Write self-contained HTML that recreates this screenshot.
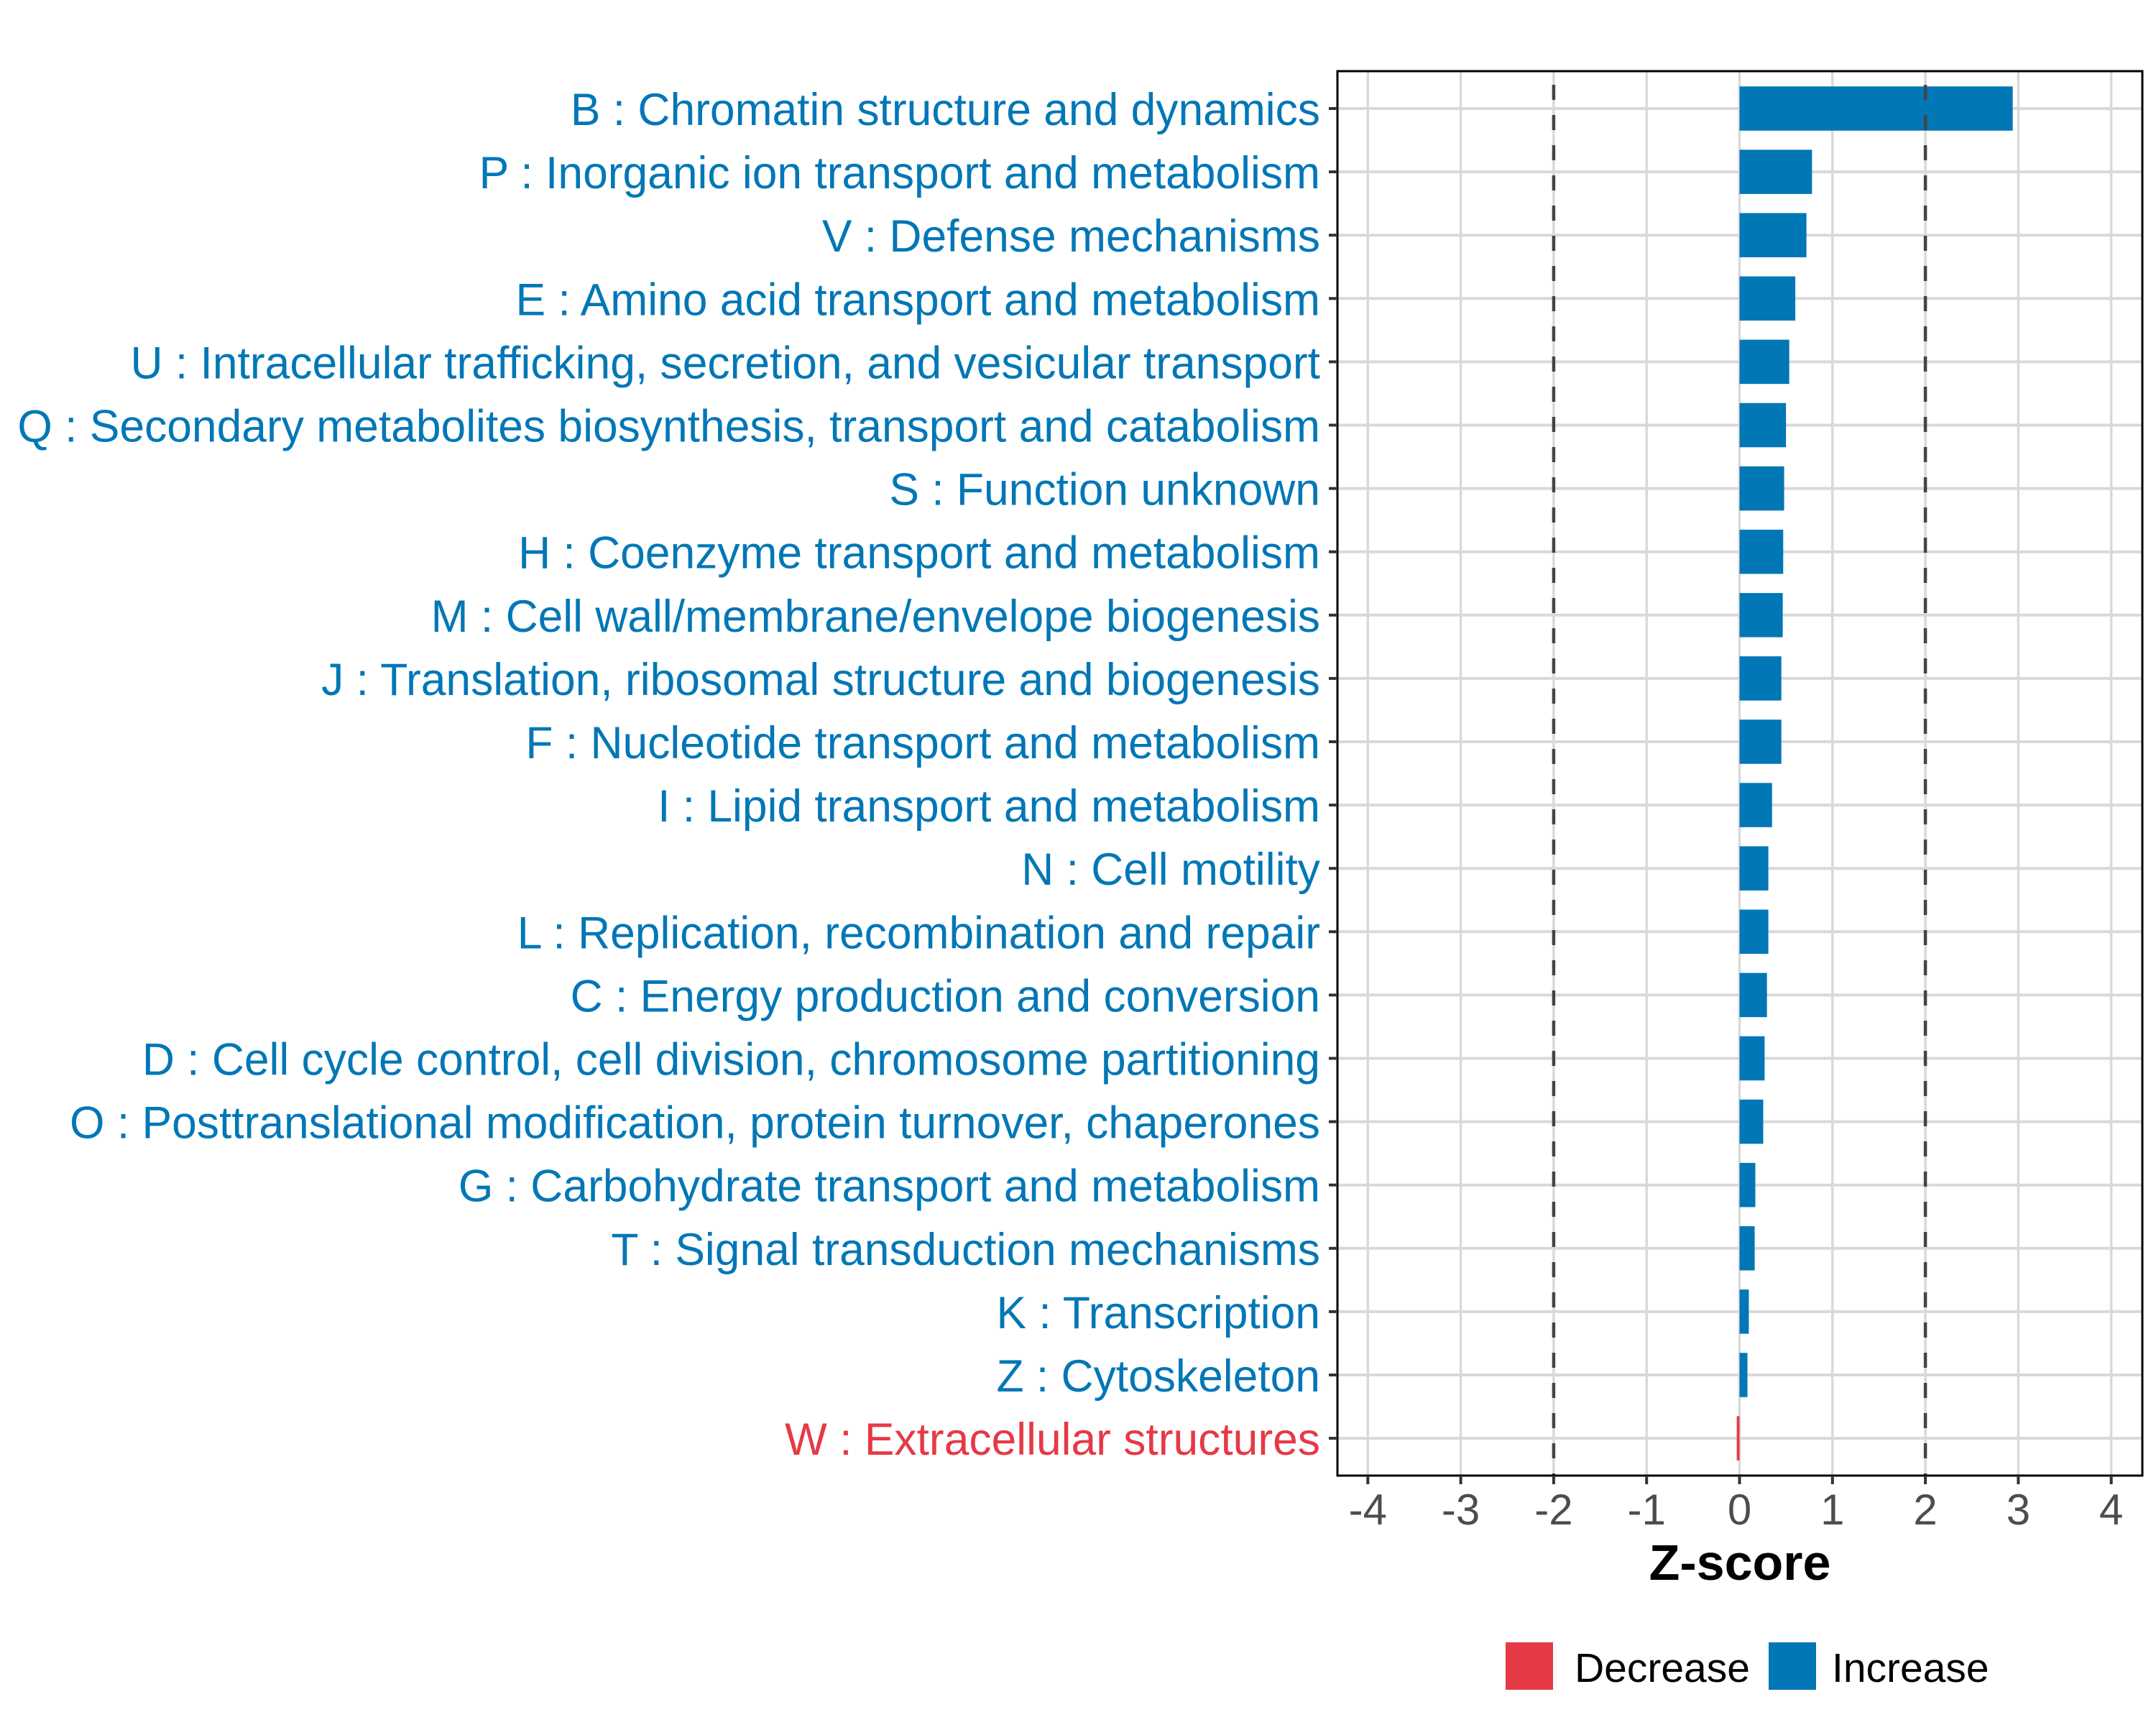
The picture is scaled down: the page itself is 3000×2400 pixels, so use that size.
<!DOCTYPE html>
<html><head><meta charset="utf-8"><style>
html,body{margin:0;padding:0;background:#fff;}
svg{display:block;}
text{font-family:"Liberation Sans",sans-serif;}
</style></head><body>
<svg id="chart" width="3000" height="2400" viewBox="0 0 3000 2400" xmlns="http://www.w3.org/2000/svg">
<rect x="0" y="0" width="3000" height="2400" fill="#fff"/>
<g id="grid"></g>
<g id="bars"></g>
<g id="refs"></g>
<rect x="1861" y="99" width="1120" height="1954" fill="none" stroke="#000" stroke-width="3"/>
<g id="ylabels"></g>
<g id="xaxis"></g>
<text x="2421" y="2198" font-size="70" font-weight="bold" text-anchor="middle" fill="#000">Z-score</text>
<g>
  <rect x="2095" y="2285" width="66" height="66" fill="#e63946"/>
  <text x="2191" y="2340" font-size="57" fill="#000">Decrease</text>
  <rect x="2461" y="2285" width="66" height="66" fill="#0277b6"/>
  <text x="2549" y="2340" font-size="57" fill="#000">Increase</text>
</g>
</svg>
<script>
const categories = [
 "B : Chromatin structure and dynamics",
 "P : Inorganic ion transport and metabolism",
 "V : Defense mechanisms",
 "E : Amino acid transport and metabolism",
 "U : Intracellular trafficking, secretion, and vesicular transport",
 "Q : Secondary metabolites biosynthesis, transport and catabolism",
 "S : Function unknown",
 "H : Coenzyme transport and metabolism",
 "M : Cell wall/membrane/envelope biogenesis",
 "J : Translation, ribosomal structure and biogenesis",
 "F : Nucleotide transport and metabolism",
 "I : Lipid transport and metabolism",
 "N : Cell motility",
 "L : Replication, recombination and repair",
 "C : Energy production and conversion",
 "D : Cell cycle control, cell division, chromosome partitioning",
 "O : Posttranslational modification, protein turnover, chaperones",
 "G : Carbohydrate transport and metabolism",
 "T : Signal transduction mechanisms",
 "K : Transcription",
 "Z : Cytoskeleton",
 "W : Extracellular structures"
];
const zscores = [2.94,0.78,0.72,0.60,0.535,0.50,0.48,0.47,0.465,0.45,0.45,0.35,0.31,0.31,0.295,0.27,0.255,0.17,0.163,0.10,0.085,-0.03];
const xTicks = [-4,-3,-2,-1,0,1,2,3,4];
const xTickLabels = ["-4","-3","-2","-1","0","1","2","3","4"];
const refValues = [-2,2];

const NS="http://www.w3.org/2000/svg";
const X0=2420.5, UNIT=129.3;
function xScale(v){return X0+v*UNIT;}
const ROW0=151, ROWSTEP=88.1;
function yScale(i){return ROW0+i*ROWSTEP;}
const PL=1861, PR=2981, PT=99, PB=2053;
function mk(tag,attrs,parent){const e=document.createElementNS(NS,tag);for(const k in attrs)e.setAttribute(k,attrs[k]);parent.appendChild(e);return e;}

const grid=document.getElementById('grid');
xTicks.forEach((t,i)=>{
  const l=mk('line',{x1:xScale(t),x2:xScale(t),y1:PT,y2:PB,stroke:'#d9d9d9','stroke-width':3.5},grid);
  
  
});
categories.forEach((c,i)=>{
  const l=mk('line',{x1:PL,x2:PR,y1:yScale(i),y2:yScale(i),stroke:'#d9d9d9','stroke-width':4},grid);
  
  
});

const bars=document.getElementById('bars');
const BH=61.5;
zscores.forEach((v,i)=>{
  const x1=Math.min(xScale(0),xScale(v)), w=Math.abs(xScale(v)-xScale(0));
  const r=mk('rect',{x:x1,y:yScale(i)-BH/2,width:w,height:BH,fill:v<0?'#e63946':'#0277b6'},bars);
  
  
});

const refs=document.getElementById('refs');
refValues.forEach(v=>{
  const l=mk('line',{x1:xScale(v),x2:xScale(v),y1:PT,y2:PB,stroke:'#444','stroke-width':4.5,'stroke-dasharray':'21 21','stroke-dashoffset':'-19'},refs);
  
  
});

const yl=document.getElementById('ylabels');
const labels=[];
categories.forEach((c,i)=>{
  const tk=mk('line',{x1:1849,x2:PL,y1:yScale(i),y2:yScale(i),stroke:'#333','stroke-width':4},yl);
  
  
  const t=mk('text',{x:1837,y:yScale(i)+23,'font-size':63,'text-anchor':'end',fill:zscores[i]<0?'#e63946':'#0277b6'},yl);
  t.textContent=c;
  
  
  labels.push(t);
});
try{
  const w=labels[5].getComputedTextLength();
  const s=(1837-24)/w;
  labels.forEach(t=>{t.setAttribute('transform','translate(1837,0) scale('+s+',1) translate(-1837,0)');});
}catch(e){}

const xa=document.getElementById('xaxis');
xTicks.forEach((t,i)=>{
  const tk=mk('line',{x1:xScale(t),x2:xScale(t),y1:PB,y2:PB+12,stroke:'#333','stroke-width':4},xa);
  
  
  const tx=mk('text',{x:xScale(t),y:2121,'font-size':60,'text-anchor':'middle',fill:'#4d4d4d'},xa);
  tx.textContent=xTickLabels[i];
  
  
});
</script>
</body></html>
